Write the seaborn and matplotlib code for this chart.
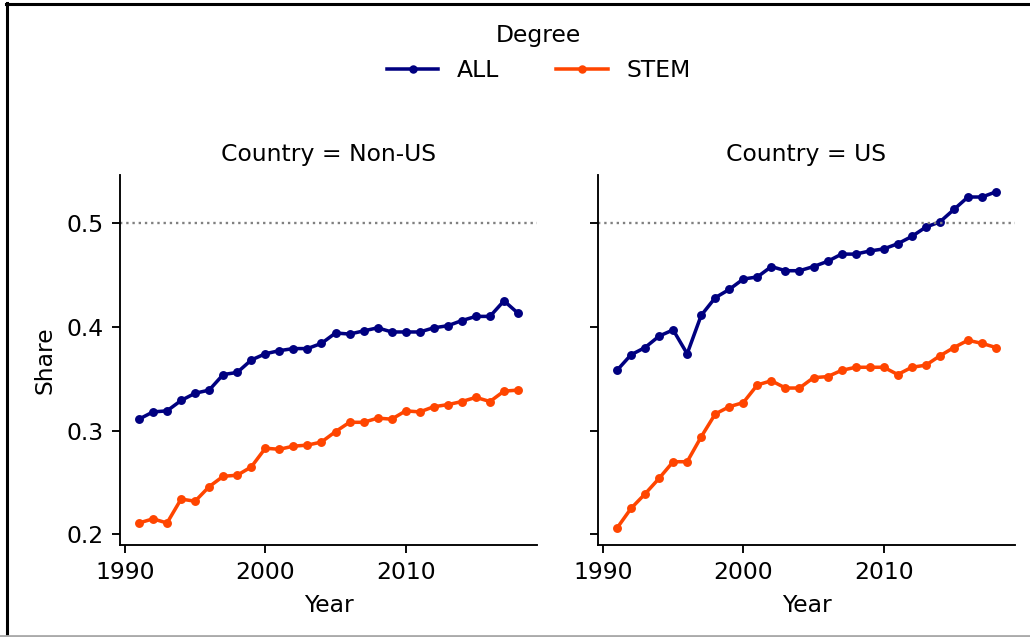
import numpy as np
import pandas as pd

import matplotlib.pyplot as plt
import seaborn as sns
from matplotlib.lines import Line2D

years = list(range(1991, 2019))

nonus_all = [0.311, 0.318, 0.319, 0.329, 0.336, 0.339, 0.354, 0.356, 0.368, 0.374,
             0.377, 0.379, 0.379, 0.384, 0.394, 0.393, 0.396, 0.399, 0.395, 0.395,
             0.395, 0.399, 0.401, 0.406, 0.410, 0.410, 0.425, 0.413]
nonus_stem = [0.211, 0.215, 0.211, 0.234, 0.232, 0.246, 0.256, 0.257, 0.265, 0.283,
              0.282, 0.285, 0.286, 0.289, 0.299, 0.308, 0.308, 0.312, 0.311, 0.319,
              0.318, 0.323, 0.325, 0.328, 0.332, 0.328, 0.338, 0.339]
us_all = [0.358, 0.373, 0.380, 0.391, 0.397, 0.374, 0.411, 0.428, 0.436, 0.446,
          0.448, 0.458, 0.454, 0.454, 0.458, 0.463, 0.470, 0.470, 0.473, 0.475,
          0.480, 0.487, 0.496, 0.501, 0.513, 0.525, 0.525, 0.530]
us_stem = [0.206, 0.225, 0.239, 0.254, 0.270, 0.270, 0.294, 0.316, 0.323, 0.327,
           0.344, 0.348, 0.341, 0.341, 0.351, 0.352, 0.358, 0.361, 0.361, 0.361,
           0.354, 0.361, 0.363, 0.372, 0.380, 0.387, 0.384, 0.380]

countries = ['Non-US', 'US']
degrees = ['ALL', 'STEM']
colors = ['navy', 'orangered']

series = {('Non-US', 'ALL'): nonus_all, ('Non-US', 'STEM'): nonus_stem,
          ('US', 'ALL'): us_all, ('US', 'STEM'): us_stem}
rows = []
for (c, d), vals in series.items():
    for y, v in zip(years, vals):
        rows.append({'Country': c, 'Degree': d, 'Year': y, 'Share': v})
df = pd.DataFrame(rows)

g = sns.relplot(data=df, x='Year', y='Share', hue='Degree', col='Country',
                col_order=countries, hue_order=degrees, palette=colors,
                kind='line', marker='o', markersize=3.8, markeredgewidth=0,
                legend=False)
fig = g.figure
fig.set_dpi(169)
fig.set_size_inches(1030 / 169, 637 / 169)

for ax in g.axes.flat:
    ax.axhline(0.5, ls=':', color='gray', lw=1)
    ax.set_xticks([1990, 2000, 2010])
    ax.set_yticks([0.2, 0.3, 0.4, 0.5])
g.axes[0, 0].set_position([120 / 1030, 1 - 545 / 637, 417 / 1030, 370 / 637])
g.axes[0, 1].set_position([598 / 1030, 1 - 545 / 637, 417 / 1030, 370 / 637])

handles = [Line2D([], [], color=c, marker='o', markersize=3.6, markeredgewidth=0)
           for c in colors]
fig.legend(handles, degrees, title='Degree', loc='upper center',
           bbox_to_anchor=(0.523, 0.995), ncol=2, frameon=False,
           columnspacing=2.4, handlelength=2.2)

# screenshot frame
fig.add_artist(Line2D([7 / 1030, 7 / 1030], [0, 1 - 3 / 637], color='black', lw=1.3))
fig.add_artist(Line2D([6 / 1030, 1], [1 - 3.5 / 637, 1 - 3.5 / 637], color='black', lw=1.3))
fig.add_artist(Line2D([0, 1], [1 / 637, 1 / 637], color='#aaaaaa', lw=1.2))

fig.savefig('out.png', dpi=169)
